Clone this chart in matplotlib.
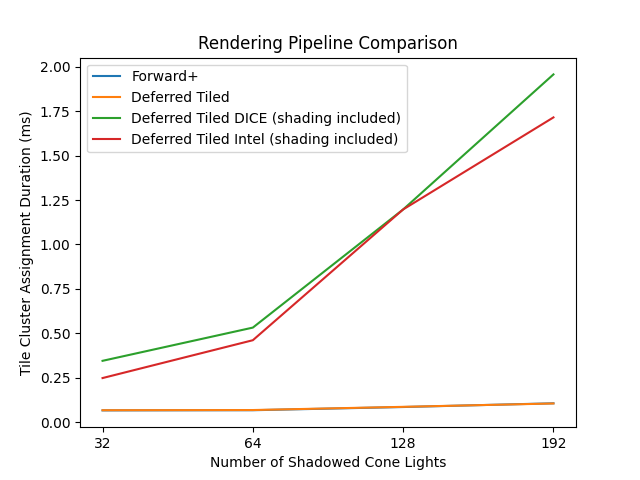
import matplotlib

matplotlib.use('Agg')
import matplotlib.pyplot as plt

lights = ['32', '64', '128', '192']
forward_plus = [0.066, 0.067, 0.085, 0.106]
deferred_tiled = [0.067, 0.068, 0.086, 0.105]
deferred_dice = [0.345, 0.532, 1.197, 1.957]
deferred_intel = [0.248, 0.461, 1.197, 1.715]

fig, ax = plt.subplots(figsize=(6.4, 4.8), dpi=100)

x = range(len(lights))
ax.plot(x, forward_plus, label='Forward+')
ax.plot(x, deferred_tiled, label='Deferred Tiled')
ax.plot(x, deferred_dice, label='Deferred Tiled DICE (shading included)')
ax.plot(x, deferred_intel, label='Deferred Tiled Intel (shading included)')

ax.set_xticks(list(x))
ax.set_xticklabels(lights)
ax.set_xlabel('Number of Shadowed Cone Lights')
ax.set_ylabel('Tile Cluster Assignment Duration (ms)')
ax.set_title('Rendering Pipeline Comparison')
ax.legend(loc='upper left')

fig.savefig('out.png', dpi=100)
plt.close()
